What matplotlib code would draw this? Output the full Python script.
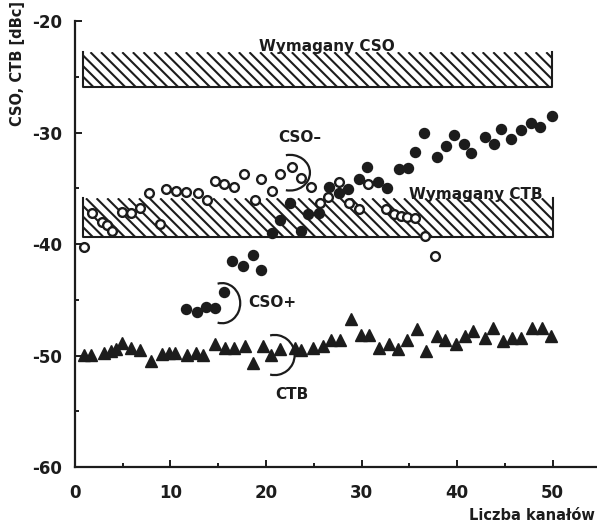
import matplotlib
matplotlib.use("Agg")
import matplotlib.pyplot as plt
import numpy as np
from matplotlib.patches import Rectangle, Arc

plt.rcParams["axes.unicode_minus"] = False

# CSO- (open circles)
cso_minus_x = [0.9, 1.8, 2.8, 3.3, 3.9, 4.9, 5.9, 6.8, 7.8, 8.9, 9.5, 10.6, 11.6,
               12.9, 13.8, 14.7, 15.6, 16.6, 17.7, 18.8, 19.5, 20.6, 21.5, 22.7,
               23.7, 24.7, 25.7, 26.5, 27.6, 28.7, 29.7, 30.7, 32.6, 33.4, 34.1,
               34.8, 35.6, 36.6, 37.7]
cso_minus_y = [-40.3, -37.2, -38.0, -38.3, -38.8, -37.1, -37.2, -36.8, -35.45, -38.2,
               -35.1, -35.2, -35.3, -35.4, -36.05, -34.35, -34.6, -34.9, -33.7,
               -36.05, -34.2, -35.2, -33.7, -33.1, -34.1, -34.9, -36.3, -35.8,
               -34.4, -36.35, -36.9, -34.65, -36.9, -37.3, -37.5, -37.6, -37.7,
               -39.3, -41.1]

# CSO+ (filled circles)
cso_plus_x = [11.6, 12.8, 13.7, 14.7, 15.6, 16.4, 17.6, 18.6, 19.5, 20.6, 21.5,
              22.5, 23.7, 24.4, 25.5, 26.6, 27.6, 28.6, 29.7, 30.6, 31.7, 32.7,
              33.9, 34.9, 35.6, 36.5, 37.9, 38.8, 39.7, 40.7, 41.5, 42.9, 43.9,
              44.6, 45.7, 46.7, 47.7, 48.7, 49.9]
cso_plus_y = [-45.8, -46.1, -45.6, -45.7, -44.3, -41.5, -42.0, -41.0, -42.3, -39.0,
              -37.85, -36.35, -38.8, -37.3, -37.2, -34.9, -35.45, -35.1, -34.2,
              -33.1, -34.4, -35.0, -33.3, -33.2, -31.7, -30.0, -32.2, -31.2, -30.2,
              -31.05, -31.8, -30.4, -31.05, -29.7, -30.6, -29.8, -29.1, -29.5,
              -28.5]

# CTB (filled triangles)
ctb_x = [0.9, 1.7, 3.0, 3.8, 4.3, 4.9, 5.9, 6.8, 8.0, 9.1, 9.8, 10.5, 11.7, 12.7,
         13.4, 14.7, 15.7, 16.6, 17.8, 18.6, 19.65, 20.5, 21.5, 23.0, 23.7, 24.95,
         26.0, 26.8, 27.8, 28.9, 29.9, 30.8, 31.8, 32.9, 33.8, 34.8, 35.8, 36.8,
         37.9, 38.7, 39.9, 40.8, 41.7, 42.9, 43.8, 44.8, 45.8, 46.7, 47.9, 48.9,
         49.8]
ctb_y = [-49.95, -49.95, -49.8, -49.6, -49.45, -48.9, -49.35, -49.5, -50.5, -49.9,
         -49.8, -49.8, -49.95, -49.8, -49.95, -48.95, -49.3, -49.35, -49.15, -50.65,
         -49.15, -49.95, -49.45, -49.35, -49.5, -49.35, -49.1, -48.6, -48.6, -46.75,
         -48.15, -48.15, -49.35, -49.0, -49.45, -48.6, -47.65, -49.6, -48.25, -48.6,
         -48.95, -48.25, -47.8, -48.45, -47.5, -48.65, -48.45, -48.45, -47.55,
         -47.55, -48.25]

# required limits (hatched bands): x range, y range
cso_band = (0.8, 49.9, -25.9, -22.8)
ctb_band = (0.8, 50.1, -39.4, -35.9)

x_ticks = [0, 10, 20, 30, 40, 50]
y_ticks = [-60, -50, -40, -30, -20]

INK = "#1c1c1c"
XMAX = 54.55

fig = plt.figure(figsize=(5.97, 5.26), dpi=100)
ax = fig.add_axes([0.1256, 0.112, 0.8727, 0.848])
ax.set_xlim(0, XMAX)
ax.set_ylim(-60, -20)

# pixel size of one data unit, used for the 45 degree hatching
px_x = 0.8727 * 597 / XMAX
px_y = 0.848 * 526 / 40.0


def hatched_band(x0, x1, y0, y1, step_px=10.6):
    rect = Rectangle((x0, y0), x1 - x0, y1 - y0, fill=False, lw=0)
    ax.add_patch(rect)
    h = y1 - y0
    dx = h * px_y / px_x
    step = step_px / px_x
    for xs in np.arange(x0 - dx, x1 + step, step):
        ln, = ax.plot([xs, xs + dx], [y1, y0], color=INK, lw=1.5,
                      solid_capstyle="butt", zorder=2)
        ln.set_clip_path(rect)
    # open-topped frame
    ax.plot([x0, x0, x1, x1], [y1, y0, y0, y1], color=INK, lw=1.5, zorder=2)


hatched_band(*cso_band)
hatched_band(*ctb_band)

ax.plot(cso_minus_x, cso_minus_y, "o", ms=6.3, mfc="white", mec=INK, mew=1.7,
        zorder=4)
ax.plot(cso_plus_x, cso_plus_y, "o", ms=7.2, mfc=INK, mec=INK, zorder=4)
ax.plot(ctb_x, ctb_y, "^", ms=8, mfc=INK, mec=INK, zorder=3)

# brackets marking each series
for cx, cy, w, h in [(22.5, -33.6, 4.2, 3.2), (15.4, -45.3, 3.8, 3.6),
                     (20.9, -49.95, 4.2, 3.6)]:
    ax.add_patch(Arc((cx, cy), w, h, theta1=-105, theta2=105, color=INK,
                     lw=1.6, zorder=5))

txt = dict(color=INK, fontweight="bold", ha="center", va="center")
ax.text(26.4, -22.3, "Wymagany CSO", fontsize=11, **txt)
ax.text(42.0, -35.6, "Wymagany CTB", fontsize=11, **txt)
ax.text(23.5, -30.4, "CSO–", fontsize=11, **txt)
ax.text(20.7, -45.2, "CSO+", fontsize=11, **txt)
ax.text(22.7, -53.5, "CTB", fontsize=11, **txt)

for side in ["top", "right"]:
    ax.spines[side].set_visible(False)
for side in ["left", "bottom"]:
    ax.spines[side].set_linewidth(1.6)
    ax.spines[side].set_color(INK)

ax.set_xticks(x_ticks)
ax.set_xticks(np.arange(5, 50, 10), minor=True)
ax.set_yticks(y_ticks)
ax.set_yticks(np.arange(-55, -20, 10), minor=True)
ax.tick_params(which="both", direction="in", color=INK, width=1.4,
               labelsize=12, labelcolor=INK)
ax.tick_params(which="major", length=5)
ax.tick_params(which="minor", length=3)
ax.tick_params(axis="x", pad=12)
ax.tick_params(axis="y", pad=9)
for lab in ax.get_xticklabels() + ax.get_yticklabels():
    lab.set_fontweight("bold")

fig.text(0.997, 1 - 516 / 526, "Liczba kanałów", ha="right", va="center",
         fontsize=10.5, fontweight="bold", color=INK)
fig.text(18 / 597, 1 - 63 / 526, "CSO, CTB [dBc]", rotation=90, ha="center",
         va="center", fontsize=10.5, fontweight="bold", color=INK)

fig.savefig("out.png", dpi=100)
